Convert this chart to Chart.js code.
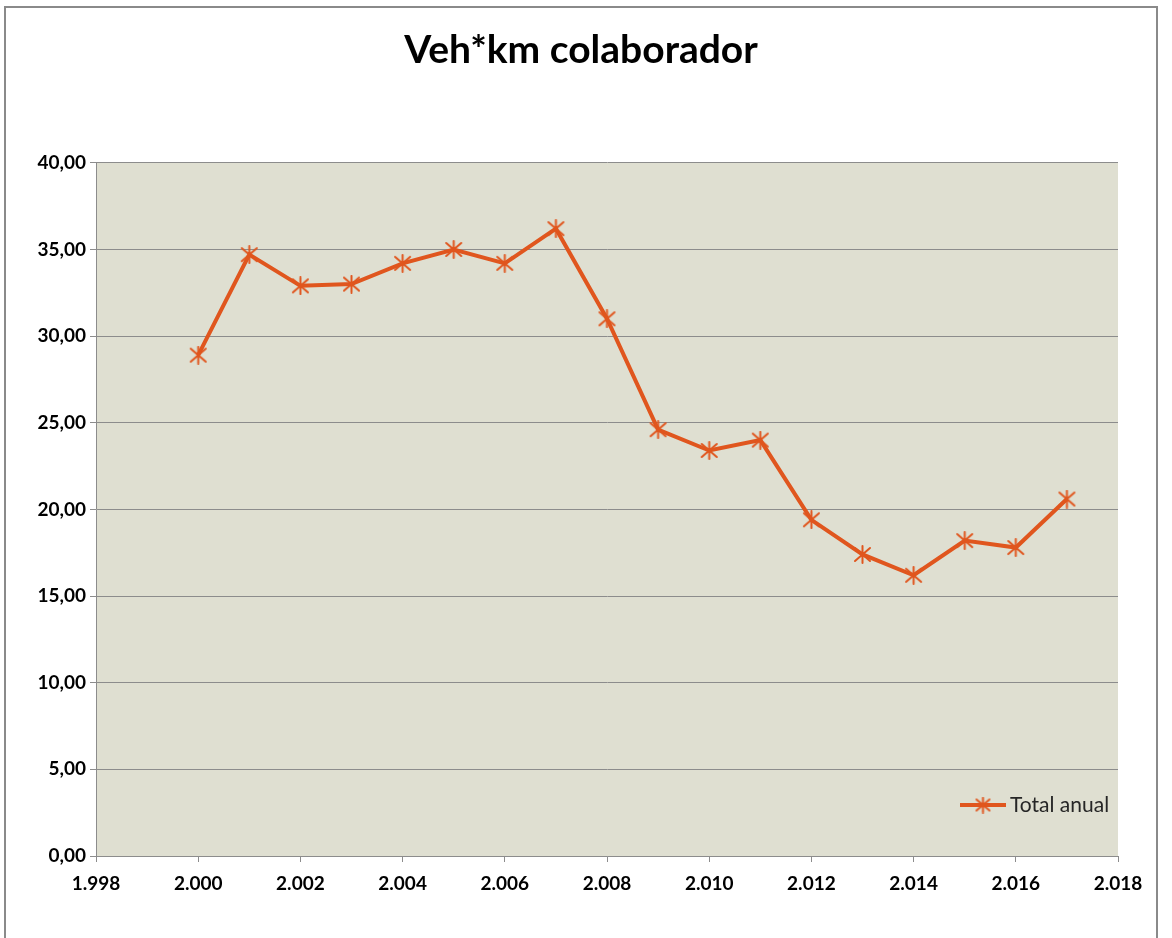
<!DOCTYPE html>
<html>
<head>
<meta charset="utf-8">
<script src="https://cdn.jsdelivr.net/npm/chart.js@4/dist/chart.umd.min.js"></script>
<style>
  html, body { margin: 0; padding: 0; background: #fff; overflow: hidden; }
  #frame {
    position: absolute; left: 4px; top: 6px; width: 1154px; height: 1000px;
    border: 2px solid #8a8a8a; box-sizing: border-box;
  }
  #wrap { position: absolute; left: 0; top: 0; width: 1172px; height: 938px; }
</style>
</head>
<body>
<div id="frame"></div>
<div id="wrap"><canvas id="myChart" width="1172" height="938"></canvas></div>
<script>
const years = [2000, 2001, 2002, 2003, 2004, 2005, 2006, 2007, 2008,
  2009, 2010, 2011, 2012, 2013, 2014, 2015, 2016, 2017];
const totalAnual = [28.9, 34.7, 32.9, 33.0, 34.2, 35.0, 34.2, 36.2, 31.0,
  24.6, 23.4, 24.0, 19.4, 17.4, 16.2, 18.2, 17.8, 20.6];
const seriesName = 'Total anual';
const chartTitle = 'Veh*km colaborador';

const orange = '#E0561E';

// Excel-like star marker: an X with a vertical bar
function makeStar(size) {
  const c = document.createElement('canvas');
  c.width = size;
  c.height = size;
  const g = c.getContext('2d');
  const m = 2, h = size / 2;
  g.strokeStyle = orange;
  g.lineWidth = 2;
  g.lineCap = 'round';
  g.beginPath();
  g.moveTo(m, m + 1); g.lineTo(size - m, size - m - 1);
  g.moveTo(size - m, m + 1); g.lineTo(m, size - m - 1);
  g.moveTo(h, m - 1); g.lineTo(h, size - m + 1);
  g.stroke();
  return c;
}
const starPoint = makeStar(19);
const starLegend = makeStar(17);

// plot area background; also nudge the title so it centres on the frame
const plotBg = {
  id: 'plotBg',
  afterLayout(chart) {
    if (chart.titleBlock) chart.titleBlock.left = 44;
  },
  beforeDraw(chart) {
    const { ctx, chartArea: a } = chart;
    ctx.save();
    ctx.fillStyle = '#DFDFD1';
    ctx.fillRect(a.left, a.top, a.right - a.left, a.bottom - a.top);
    ctx.restore();
  }
};

// legend drawn inside the plot area, bottom right
const innerLegend = {
  id: 'innerLegend',
  afterDraw(chart) {
    const { ctx, chartArea: a } = chart;
    const ds = chart.data.datasets[0];
    const y = a.bottom - 51;
    const x0 = a.right - 158;
    ctx.save();
    ctx.strokeStyle = ds.borderColor;
    ctx.lineWidth = 4;
    ctx.beginPath();
    ctx.moveTo(x0, y);
    ctx.lineTo(x0 + 46, y);
    ctx.stroke();
    ctx.drawImage(starLegend, x0 + 23 - 8.5, y - 8.5);
    ctx.fillStyle = '#262626';
    ctx.font = '21px Lato';
    ctx.textBaseline = 'middle';
    ctx.fillText(ds.label, x0 + 50, y);
    ctx.restore();
  }
};

new Chart(document.getElementById('myChart'), {
  type: 'line',
  data: {
    labels: years,
    datasets: [{
      label: seriesName,
      data: years.map((y, i) => ({ x: y, y: totalAnual[i] })),
      borderColor: orange,
      backgroundColor: orange,
      borderWidth: 4,
      pointStyle: starPoint,
      pointRadius: 9,
      tension: 0
    }]
  },
  options: {
    responsive: false,
    animation: false,
    layout: { padding: { left: 0, right: 54, top: 0, bottom: 0 } },
    plugins: {
      legend: { display: false },
      tooltip: { enabled: false },
      title: {
        display: true,
        text: chartTitle,
        color: '#000',
        font: { family: 'Lato', size: 39, weight: 'bold' },
        padding: { top: 27, bottom: 89 }
      }
    },
    scales: {
      x: {
        type: 'linear',
        min: 1998,
        max: 2018,
        afterFit: (s) => { s.height = 82; },
        ticks: {
          stepSize: 2,
          padding: 10,
          color: '#000',
          font: { family: 'Lato', size: 19, weight: 'bold' },
          callback: (v) => String(v).replace(/^(\d)(\d{3})$/, '$1.$2')
        },
        grid: {
          display: true,
          drawOnChartArea: false,
          drawTicks: true,
          tickLength: 6,
          color: '#8c8c8c'
        },
        border: { display: true, color: '#8c8c8c', width: 1 }
      },
      y: {
        min: 0,
        max: 40,
        afterFit: (s) => { s.width = 96; },
        ticks: {
          stepSize: 5,
          padding: 4,
          color: '#000',
          font: { family: 'Lato', size: 19, weight: 'bold' },
          callback: (v) => v.toFixed(2).replace('.', ',')
        },
        grid: {
          color: '#8c8c8c',
          lineWidth: 1,
          tickLength: 6
        },
        border: { display: true, color: '#8c8c8c', width: 1 }
      }
    }
  },
  plugins: [plotBg, innerLegend]
});
</script>
</body>
</html>
